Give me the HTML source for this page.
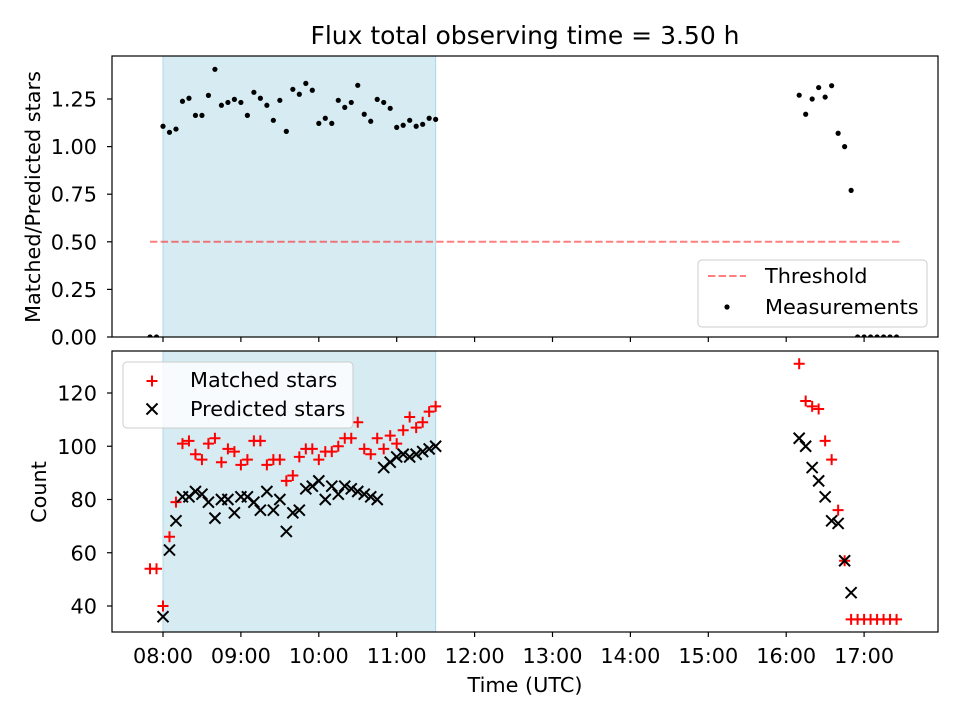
<!DOCTYPE html>
<html><head><meta charset="utf-8">
<style>
html,body{margin:0;padding:0;background:#fff;}
svg{display:block;font-family:"DejaVu Sans","Liberation Sans",sans-serif;}
</style></head>
<body>
<svg id="chart" width="960" height="720" viewBox="0 0 960 720"></svg>
<script>
// ---- data ----
const ratioTimes = ["07:50","07:55","08:00","08:05","08:10","08:15","08:20","08:25","08:30","08:35","08:40","08:45","08:50","08:55","09:00","09:05","09:10","09:15","09:20","09:25","09:30","09:35","09:40","09:45","09:50","09:55","10:00","10:05","10:10","10:15","10:20","10:25","10:30","10:35","10:40","10:45","10:50","10:55","11:00","11:05","11:10","11:15","11:20","11:25","11:30","16:10","16:15","16:20","16:25","16:30","16:35","16:40","16:45","16:50","16:55","17:00","17:05","17:10","17:15","17:20","17:25"];
const ratioValues = [0,0,1.107,1.075,1.092,1.238,1.254,1.164,1.164,1.269,1.406,1.217,1.232,1.248,1.232,1.164,1.285,1.254,1.217,1.138,1.243,1.080,1.301,1.275,1.332,1.296,1.122,1.149,1.122,1.243,1.206,1.232,1.322,1.170,1.133,1.248,1.232,1.201,1.101,1.112,1.138,1.107,1.117,1.149,1.143,1.27,1.17,1.25,1.31,1.26,1.32,1.07,1.00,0.77,0,0,0,0,0,0,0];
const matchedTimes = ["07:50","07:55","08:00","08:05","08:10","08:15","08:20","08:25","08:30","08:35","08:40","08:45","08:50","08:55","09:00","09:05","09:10","09:15","09:20","09:25","09:30","09:35","09:40","09:45","09:50","09:55","10:00","10:05","10:10","10:15","10:20","10:25","10:30","10:35","10:40","10:45","10:50","10:55","11:00","11:05","11:10","11:15","11:20","11:25","11:30","16:10","16:15","16:20","16:25","16:30","16:35","16:40","16:45","16:50","16:55","17:00","17:05","17:10","17:15","17:20","17:25"];
const matchedValues = [54,54,40,66,79,101,102,97,95,101,103,94,99,98,93,95,102,102,93,95,95,87,89,96,99,99,95,98,98,100,103,103,109,99,97,103,99,104,101,106,111,107,109,113,115,131,117,115,114,102,95,76,57,35,35,35,35,35,35,35,35];
const predictedTimes = ["08:00","08:05","08:10","08:15","08:20","08:25","08:30","08:35","08:40","08:45","08:50","08:55","09:00","09:05","09:10","09:15","09:20","09:25","09:30","09:35","09:40","09:45","09:50","09:55","10:00","10:05","10:10","10:15","10:20","10:25","10:30","10:35","10:40","10:45","10:50","10:55","11:00","11:05","11:10","11:15","11:20","11:25","11:30","16:10","16:15","16:20","16:25","16:30","16:35","16:40","16:45","16:50"];
const predictedValues = [36,61,72,81,81,83,82,79,73,80,80,75,81,81,79,76,83,76,80,68,75,76,84,85,87,80,85,82,85,84,83,82,81,80,92,94,96,97,96,97,98,99,100,103,100,92,87,81,72,71,57,45];
const xTickLabels = ["08:00","09:00","10:00","11:00","12:00","13:00","14:00","15:00","16:00","17:00"];
const topYTicks = [0,0.25,0.5,0.75,1.0,1.25];
const botYTicks = [40,60,80,100,120];
const threshold = 0.5;
const spanStart = "08:00", spanEnd = "11:30";
const thrStart = "07:50", thrEnd = "17:25";

// ---- layout ----
const L=112,R=938, T1=56,B1=337, T2=351,B2=632;
const FS=20.8;
const NS="http://www.w3.org/2000/svg";
const svg=document.getElementById('chart');
function h(t){const p=t.split(':');return +p[0]+(+p[1])/60;}
function X(t){return 163+(h(t)-8)*77.9;}
function Y1(v){return 337-v*190.4;}
function Y2(c){return 606-(c-40)*2.6625;}
function el(tag,attrs,parent){const e=document.createElementNS(NS,tag);for(const k in attrs)e.setAttribute(k,attrs[k]);(parent||svg).appendChild(e);return e;}

const defs=el('defs',{});
const c1=el('clipPath',{id:'c1'},defs);el('rect',{x:L,y:T1,width:R-L,height:B1-T1},c1);
const c2=el('clipPath',{id:'c2'},defs);el('rect',{x:L,y:T2,width:R-L,height:B2-T2},c2);

let t=el('text',{x:525,y:44,'font-size':25,'text-anchor':'middle',fill:'#000'});t.textContent='Flux total observing time = 3.50 h';



function panel(top,bot,clip,name){
  const g=el('g',{'clip-path':'url(#'+clip+')'});
  
  
  const s=el('rect',{x:X(spanStart),y:top,width:X(spanEnd)-X(spanStart),height:bot-top,fill:'#add8e6','fill-opacity':0.5,stroke:'#add8e6','stroke-width':1});
  
  
  g.appendChild(s);
  return g;
}
const g1=panel(T1,B1,'c1','ratio');
const thr=el('line',{x1:X(thrStart),x2:X(thrEnd)+4,y1:Y1(threshold),y2:Y1(threshold),stroke:'#ff0000','stroke-opacity':0.5,'stroke-width':2,'stroke-dasharray':'7.4,3.2'},g1);


ratioTimes.forEach((tm,i)=>{
  const c=el('circle',{cx:X(tm),cy:Y1(ratioValues[i]),r:2.6,fill:'#000'},g1);
  
  
});
const g2=panel(T2,B2,'c2','count');
matchedTimes.forEach((tm,i)=>{
  const x=X(tm),y=Y2(matchedValues[i]);
  const p=el('path',{d:`M${x-5.5},${y}H${x+5.5}M${x},${y-5.5}V${y+5.5}`,stroke:'#ff0000','stroke-width':2},g2);
  
  
});
predictedTimes.forEach((tm,i)=>{
  const x=X(tm),y=Y2(predictedValues[i]);
  const p=el('path',{d:`M${x-5.5},${y-5.5}L${x+5.5},${y+5.5}M${x-5.5},${y+5.5}L${x+5.5},${y-5.5}`,stroke:'#000','stroke-width':2},g2);
  
  
});

function frame(top,bot,name){
  const r=el('rect',{x:L,y:top,width:R-L,height:bot-top,fill:'none',stroke:'#000','stroke-width':1.2});
  
  
  xTickLabels.forEach(lb=>{
    const x=X(lb);
    const tk=el('line',{x1:x,x2:x,y1:bot,y2:bot+5,stroke:'#000','stroke-width':1.2});
    
    
  });
}
frame(T1,B1,'ratio');frame(T2,B2,'count');
xTickLabels.forEach(lb=>{
  const tx=el('text',{x:X(lb),y:663,'font-size':FS,'text-anchor':'middle'});tx.textContent=lb;
  
  
});
topYTicks.forEach(v=>{
  const y=Y1(v);
  el('line',{x1:L-5,x2:L,y1:y,y2:y,stroke:'#000','stroke-width':1.2});
  const tx=el('text',{x:L-15,y:y+7.5,'font-size':FS,'text-anchor':'end'});tx.textContent=v.toFixed(2);
  
  
});
botYTicks.forEach(v=>{
  const y=Y2(v);
  el('line',{x1:L-5,x2:L,y1:y,y2:y,stroke:'#000','stroke-width':1.2});
  const tx=el('text',{x:L-15,y:y+7.5,'font-size':FS,'text-anchor':'end'});tx.textContent=v;
  
  
});
let a=el('text',{x:525,y:692,'font-size':FS,'text-anchor':'middle'});a.textContent='Time (UTC)';


a=el('text',{x:0,y:0,'font-size':FS,'text-anchor':'middle',transform:'translate(40,197) rotate(-90)'});a.textContent='Matched/Predicted stars';


a=el('text',{x:0,y:0,'font-size':FS,'text-anchor':'middle',transform:'translate(46,492) rotate(-90)'});a.textContent='Count';



let lg=el('g',{});


el('rect',{x:698,y:260,width:229,height:67,rx:4,fill:'#fff','fill-opacity':0.8,stroke:'#ccc'},lg);
el('line',{x1:708,x2:746,y1:276,y2:276,stroke:'#ff0000','stroke-opacity':0.5,'stroke-width':2,'stroke-dasharray':'7.4,3.2'},lg);
el('circle',{cx:727,cy:307,r:2.6,fill:'#000'},lg);
let lt=el('text',{x:765,y:283,'font-size':FS},lg);lt.textContent='Threshold';
lt=el('text',{x:765,y:314,'font-size':FS},lg);lt.textContent='Measurements';

lg=el('g',{});


el('rect',{x:123,y:362,width:230,height:66,rx:4,fill:'#fff','fill-opacity':0.8,stroke:'#ccc'},lg);
el('path',{d:'M146.5,381H157.5M152,375.5V386.5',stroke:'#ff0000','stroke-width':2},lg);
el('path',{d:'M146.5,403.5L157.5,414.5M146.5,414.5L157.5,403.5',stroke:'#000','stroke-width':2},lg);
lt=el('text',{x:190,y:387,'font-size':FS},lg);lt.textContent='Matched stars';
lt=el('text',{x:190,y:416,'font-size':FS},lg);lt.textContent='Predicted stars';
</script>
</body></html>
